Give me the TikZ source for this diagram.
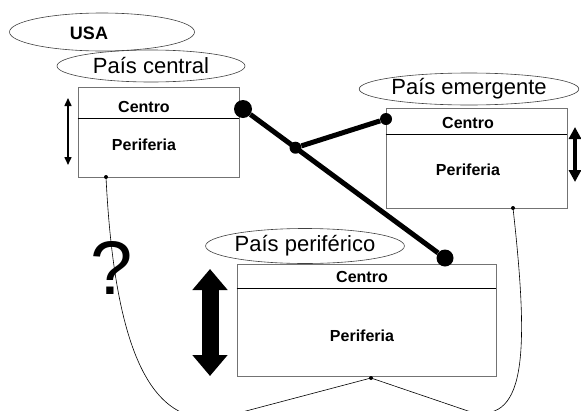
\documentclass[tikz,border=0pt]{standalone}
\usepackage{fontspec}
\setmainfont{Liberation Sans}
\usetikzlibrary{arrows.meta,calc,positioning,shapes.geometric}

\tikzset{
  pais/.style={draw=black!75, line width=0.6pt, ellipse, inner sep=0pt},
  paistxt/.style={font=\fontsize{22}{22}\selectfont, inner sep=0pt},
  caja/.style={draw=black!55, line width=0.8pt, rectangle, inner sep=0pt},
  rotulo/.style={font=\fontsize{16}{16}\selectfont\bfseries, inner sep=0pt},
  bola/.style={circle, fill=black, inner sep=0pt},
  enlace/.style={line width=5pt},
  hilo/.style={line width=0.6pt}
}

\begin{document}
\begin{tikzpicture}[x=1pt, y=-1pt]
  \useasboundingbox (0,0) rectangle (581,410);
  \clip (0,0) rectangle (581,410);

  % paises
  \node[pais, minimum width=185pt, minimum height=38pt] (usa) at (102,32) {};
  \node[rotulo, font=\fontsize{18}{18}\selectfont\bfseries] (usatxt) at (89,33) {USA};
  \node[pais, paistxt, minimum width=188pt, minimum height=32pt] (central) at (151,66) {País central};
  \node[pais, paistxt, minimum width=188pt, minimum height=32pt] (emergente) at (469,89) {País emergente};
  \node[pais, paistxt, minimum width=179pt, minimum height=35pt] (periferico) at (305,246) {País periférico};

  % cajas
  \node[caja, minimum width=161pt, minimum height=90pt] (ccaja) at (158.5,132) {};
  \node[caja, minimum width=181pt, minimum height=100pt] (ecaja) at (476.5,158) {};
  \node[caja, minimum width=259pt, minimum height=112pt] (pcaja) at (366.5,320) {};
  \draw[line width=0.8pt] (ccaja.west |- 0,118) -- (ccaja.east |- 0,118);
  \draw[line width=0.8pt] (ecaja.west |- 0,134) -- (ecaja.east |- 0,134);
  \draw[line width=0.8pt] (pcaja.west |- 0,288) -- (pcaja.east |- 0,288);

  \node[rotulo] (ccentro) at (144,107) {Centro};
  \node[rotulo] (cperif) at (144,145) {Periferia};
  \node[rotulo] (ecentro) at (468,123) {Centro};
  \node[rotulo] (eperif) at (468,170) {Periferia};
  \node[rotulo] (pcentro) at (362,277) {Centro};
  \node[rotulo] (pperif) at (362,336) {Periferia};

  % flechas dobles
  \draw[line width=1.5pt, {Triangle[length=8pt, width=7pt]}-{Triangle[length=8pt, width=7pt]}] (68,98) -- (68,165);
  \draw[line width=4pt, {Triangle[length=12pt, width=12pt]}-{Triangle[length=12pt, width=12pt]}] (575,127) -- (575,182);
  \draw[line width=17pt, {Triangle[length=21pt, width=34pt]}-{Triangle[length=21pt, width=34pt]}] (210,269) -- (210,376);

  % enlaces
  \node[bola, minimum size=18pt] (cbola) at (243,109) {};
  \node[bola, minimum size=17pt] (pbola) at (445,258) {};
  \node[bola, minimum size=12pt] (ebola) at (386,119) {};
  \node[bola, minimum size=12pt] (union) at ($(cbola)!0.26!(pbola)$) {};
  \draw[enlace] (cbola) -- (pbola);
  \draw[enlace] (union) -- (ebola);

  % curvas
  \node[bola, minimum size=4pt] (cpie) at (106,177) {};
  \node[bola, minimum size=4pt] (epie) at (513,208) {};
  \node[bola, minimum size=4pt] (ppie) at (371,378) {};
  \draw[hilo] (cpie.center) .. controls (115,360) and (155,432) .. (227,416) -- (ppie.center);
  \draw[hilo] (epie.center) .. controls (530,360) and (525,426) .. (468,411) -- (ppie.center);

  \node[font=\fontsize{76}{76}\selectfont, inner sep=0pt] (duda) at (112,268) {?};
\end{tikzpicture}
\end{document}
